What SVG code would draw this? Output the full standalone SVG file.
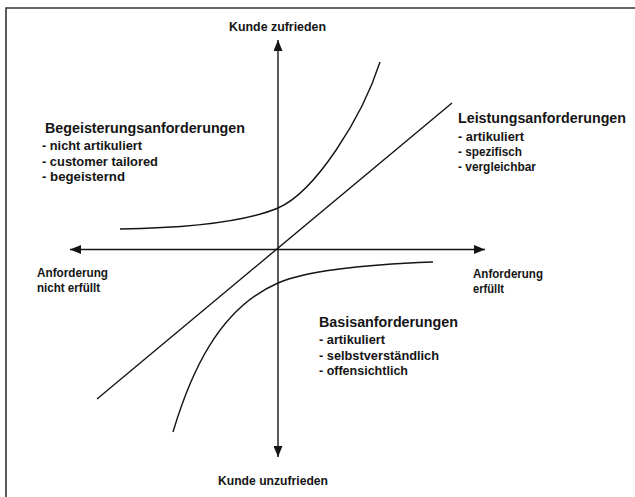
<svg xmlns="http://www.w3.org/2000/svg" width="635" height="497" viewBox="0 0 635 497">
<style>
text{font-family:"Liberation Sans",Arial,sans-serif;font-weight:bold;fill:#151515}
.h{font-size:14px}
.t{font-size:12.5px}
.ln{fill:none;stroke:#151515;stroke-width:1.4}
.frame{fill:none;stroke:#333;stroke-width:1.6}
</style>
<defs>
<marker id="arr" markerUnits="userSpaceOnUse" markerWidth="11" markerHeight="9" refX="11" refY="4.5" orient="auto-start-reverse">
<path d="M0,0 L11,4.5 L0,9 z" fill="#151515"/>
</marker>
</defs>
<rect width="635" height="497" fill="#fff"/>
<path class="frame" d="M6,497 V8 H635"/>
<g id="connectors">
<line id="axis-y" class="ln" x1="278" y1="40" x2="278" y2="457" marker-start="url(#arr)" marker-end="url(#arr)"/>
<line id="axis-x" class="ln" x1="70" y1="249.5" x2="485" y2="249.5" marker-start="url(#arr)" marker-end="url(#arr)"/>
<line id="leistung-line" class="ln" x1="97" y1="399" x2="452" y2="103"/>
<path id="begeisterung-curve" class="ln" d="M120,229 C190,228 245,222 278,208 C315,192 362,118 380,62"/>
<path id="basis-curve" class="ln" d="M173,432 C190,375 218,309 278,283 C310,269 380,264 433,262"/>
</g>
<g id="label-zufrieden"><text class="t" x="229" y="31" textLength="97" lengthAdjust="spacingAndGlyphs">Kunde zufrieden</text></g>
<g id="label-unzufrieden"><text class="t" x="218" y="485" textLength="110" lengthAdjust="spacingAndGlyphs">Kunde unzufrieden</text></g>
<g id="label-nicht-erfuellt">
<text class="t" x="37" y="277" textLength="71" lengthAdjust="spacingAndGlyphs">Anforderung</text>
<text class="t" x="37" y="292" textLength="63" lengthAdjust="spacingAndGlyphs">nicht erfüllt</text>
</g>
<g id="label-erfuellt">
<text class="t" x="473" y="278" textLength="70" lengthAdjust="spacingAndGlyphs">Anforderung</text>
<text class="t" x="473" y="293" textLength="31" lengthAdjust="spacingAndGlyphs">erfüllt</text>
</g>
<g id="node-begeisterung">
<text class="h" x="45" y="133" textLength="200" lengthAdjust="spacingAndGlyphs">Begeisterungsanforderungen</text>
<text class="t" x="42" y="150" textLength="100" lengthAdjust="spacingAndGlyphs">- nicht artikuliert</text>
<text class="t" x="42" y="165.5" textLength="116" lengthAdjust="spacingAndGlyphs">- customer tailored</text>
<text class="t" x="42" y="181" textLength="83" lengthAdjust="spacingAndGlyphs">- begeisternd</text>
</g>
<g id="node-leistung">
<text class="h" x="458" y="123" textLength="168" lengthAdjust="spacingAndGlyphs">Leistungsanforderungen</text>
<text class="t" x="458" y="141" textLength="66" lengthAdjust="spacingAndGlyphs">- artikuliert</text>
<text class="t" x="458" y="156" textLength="64" lengthAdjust="spacingAndGlyphs">- spezifisch</text>
<text class="t" x="458" y="171" textLength="78" lengthAdjust="spacingAndGlyphs">- vergleichbar</text>
</g>
<g id="node-basis">
<text class="h" x="319" y="327" textLength="139" lengthAdjust="spacingAndGlyphs">Basisanforderungen</text>
<text class="t" x="319" y="344" textLength="66" lengthAdjust="spacingAndGlyphs">- artikuliert</text>
<text class="t" x="319" y="360" textLength="120" lengthAdjust="spacingAndGlyphs">- selbstverständlich</text>
<text class="t" x="319" y="375" textLength="89" lengthAdjust="spacingAndGlyphs">- offensichtlich</text>
</g>
</svg>
